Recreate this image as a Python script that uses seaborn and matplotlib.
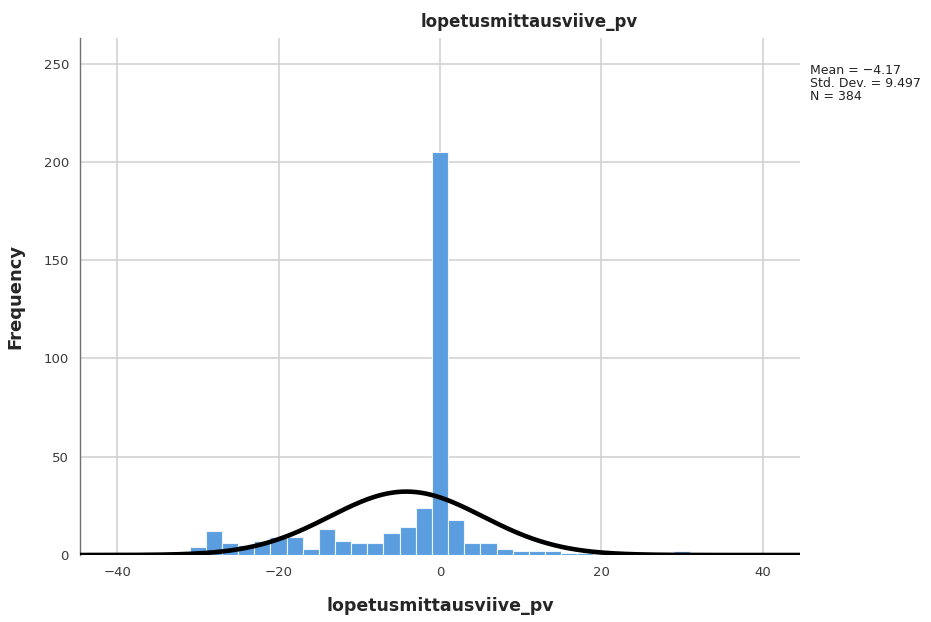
import numpy as np
import pandas as pd
import matplotlib
matplotlib.use("Agg")
import matplotlib.pyplot as plt
import seaborn as sns

# Data
bin_centers = [-30, -28, -26, -24, -22, -20, -18, -16, -14, -12, -10, -8, -6, -4, -2,
               0, 2, 4, 6, 8, 10, 12, 14, 16, 18, 30]
counts = [4, 12, 6, 5, 7, 9, 9, 3, 13, 7, 6, 6, 11, 14, 24,
          205, 18, 6, 6, 3, 2, 2, 2, 1, 1, 2]
mean_val = -4.17
std_val = 9.497
n_val = 384
bin_width = 2
x_ticks = [-40, -20, 0, 20, 40]
y_ticks = [0, 50, 100, 150, 200, 250]
title = "lopetusmittausviive_pv"

sns.set_theme(style="white")
plt.rcParams['font.family'] = ['DejaVu Sans']

df = pd.DataFrame({"x": bin_centers, "count": counts})

fig = plt.figure(figsize=(9.31, 6.22), dpi=100)
ax = fig.add_axes([80/931, 1-555/622, 720/931, (555-38)/622])

sns.histplot(data=df, x="x", weights="count", binwidth=bin_width, binrange=(-31, 31), ax=ax,
             color="#5b9ee0", alpha=1.0, edgecolor="#eef4fa", linewidth=0.8)

xs = np.linspace(-44.6, 44.6, 600)
ys = n_val * bin_width * np.exp(-0.5 * ((xs - mean_val) / std_val) ** 2) / (std_val * np.sqrt(2 * np.pi))
sns.lineplot(x=xs, y=ys, ax=ax, color="black", linewidth=3.3, zorder=5)

ax.set_xlim(-44.6, 44.6)
ax.set_ylim(0, 263)
ax.set_xticks(x_ticks)
ax.set_yticks(y_ticks)
ax.grid(True, color="#d0d0d0", linewidth=1.1)
ax.set_axisbelow(True)
for s in ["top", "right", "bottom"]:
    ax.spines[s].set_visible(False)
ax.spines["left"].set_color("#707070")
ax.spines["left"].set_linewidth(1.0)
ax.tick_params(axis="both", length=0, labelsize=9.5, labelcolor="#3a3a3a", pad=8)

ax.set_xlabel("lopetusmittausviive_pv", fontsize=12.5, fontweight="bold", labelpad=13)
ax.set_ylabel("Frequency", fontsize=13, fontweight="bold", labelpad=14)

fig.text(529/931, 1-22/622, title, ha="center", va="center", fontsize=12, fontweight="bold")
fig.text(810/931, 1-64/622, f"Mean = \u2212{abs(mean_val):.2f}\nStd. Dev. = {std_val}\nN = {n_val}",
         ha="left", va="top", fontsize=9, linespacing=1.0, color="#222222")

fig.savefig("out.png", dpi=100)
